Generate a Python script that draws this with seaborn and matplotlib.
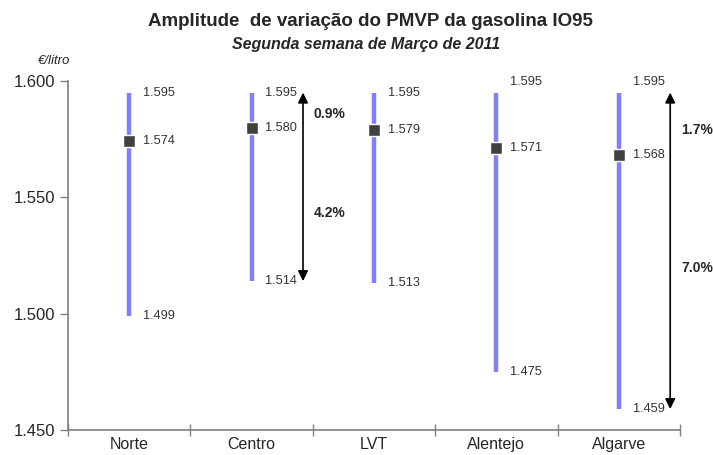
"""
Amplitude de variação do PMVP da gasolina IO95 - range chart by region
"""

import numpy as np
import pandas as pd
import matplotlib
matplotlib.use("Agg")
import matplotlib.pyplot as plt
import seaborn as sns

# ---------------------------------------------------------------------------
# Data (€/litro)
# ---------------------------------------------------------------------------
regions = ["Norte", "Centro", "LVT", "Alentejo", "Algarve"]
price_max = [1.595, 1.595, 1.595, 1.595, 1.595]
price_avg = [1.574, 1.580, 1.579, 1.571, 1.568]
price_min = [1.499, 1.514, 1.513, 1.475, 1.459]

# regions annotated with the % spread above / below the average
spread_regions = ["Centro", "Algarve"]
pct_up = ["0.9%", "1.7%"]
pct_down = ["4.2%", "7.0%"]

yticks = [1.450, 1.500, 1.550, 1.600]

df = pd.DataFrame({"region": regions, "max": price_max,
                   "avg": price_avg, "min": price_min})
df["pos"] = np.arange(len(df))

# ---------------------------------------------------------------------------
sns.set_style("white")
plt.rcParams["font.family"] = ["Liberation Sans", "DejaVu Sans"]

fig = plt.figure(figsize=(7.13, 4.55), dpi=100)
ax = fig.add_axes([68 / 713, 1 - 430 / 455, 612 / 713, 349 / 455])

bar_col = "#8080FF"
ax.vlines(df["pos"], df["min"], df["max"], color=bar_col, lw=3.2, zorder=1)
sns.scatterplot(data=df, x="pos", y="avg", marker="s", s=70, color="#404040",
                edgecolor="white", linewidth=1.0, zorder=3, ax=ax, legend=False)

lab_kw = dict(fontsize=9.2, color="#333333", va="center", ha="left")
for _, r in df.iterrows():
    x = r["pos"]
    top_off = 8 if r["region"] in ("Alentejo", "Algarve") else 0
    ax.annotate(f"{r['max']:.3f}", (x, r["max"]), xytext=(10, top_off),
                textcoords="offset points", **lab_kw)
    ax.annotate(f"{r['avg']:.3f}", (x, r["avg"]), xytext=(10, 0),
                textcoords="offset points", **lab_kw)
    ax.annotate(f"{r['min']:.3f}", (x, r["min"]), xytext=(10, 0),
                textcoords="offset points", **lab_kw)

# spread arrows (label nudges in points, up / down)
nudge_up = [-3, -4]
nudge_down = [-6, 10]
for reg, up, down, nu, nd in zip(spread_regions, pct_up, pct_down,
                                 nudge_up, nudge_down):
    r = df[df["region"] == reg].iloc[0]
    xa = r["pos"] + 0.42
    ax.annotate("", xy=(xa, r["max"]), xytext=(xa, r["min"]),
                arrowprops=dict(arrowstyle="<|-|>", color="black", lw=1.2,
                                mutation_scale=15, shrinkA=0, shrinkB=0))
    ax.annotate(up, (xa + 0.22, (r["max"] + r["avg"]) / 2), xytext=(0, nu),
                textcoords="offset points", fontsize=10, fontweight="bold",
                ha="center", va="center", annotation_clip=False)
    ax.annotate(down, (xa + 0.22, (r["avg"] + r["min"]) / 2), xytext=(0, nd),
                textcoords="offset points", fontsize=10, fontweight="bold",
                ha="center", va="center", annotation_clip=False)

# axes styling
ax.set_xlim(-0.5, len(regions) - 0.5)
ax.set_ylim(1.450, 1.600)
ax.set_yticks(yticks)
ax.set_yticklabels([f"{v:.3f}" for v in yticks], fontsize=12)
ax.set_xticks(np.arange(len(regions) + 1) - 0.5)
ax.set_xticklabels([])
ax.set_xticks(np.arange(len(regions)), minor=True)
ax.set_xticklabels(regions, minor=True, fontsize=11.5)
ax.tick_params(axis="x", which="major", bottom=True, direction="inout",
               length=8, color="#808080", width=1)
ax.tick_params(axis="x", which="minor", bottom=True, length=0, pad=5)
ax.tick_params(axis="y", left=True, direction="out", length=6,
               color="#808080", width=1, pad=3)
ax.set_xlabel("")
ax.set_ylabel("")
for s in ["top", "right"]:
    ax.spines[s].set_visible(False)
for s in ["left", "bottom"]:
    ax.spines[s].set_color("#808080")
    ax.spines[s].set_linewidth(1.2)

fig.text(370 / 713, 1 - 22 / 455, "Amplitude  de variação do PMVP da gasolina IO95",
         ha="center", va="center", fontsize=13.5, fontweight="bold")
fig.text(366 / 713, 1 - 44 / 455, "Segunda semana de Março de 2011",
         ha="center", va="center", fontsize=11.5, fontweight="bold",
         style="italic")
fig.text(38 / 713, 1 - 61 / 455, "€/litro", ha="left", va="center",
         fontsize=9.5, style="italic")

fig.savefig("out.png", dpi=100)
